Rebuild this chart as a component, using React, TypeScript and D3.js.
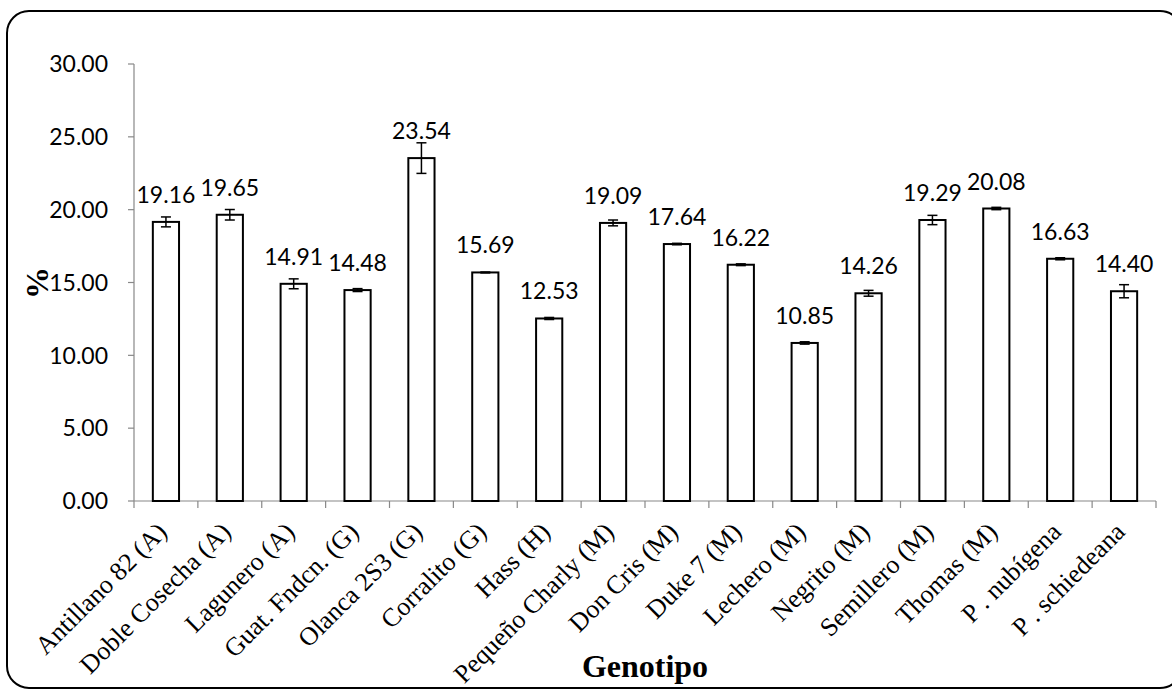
import React from "react";
import * as d3 from "d3";

const categories = [
  "Antillano 82 (A)", "Doble Cosecha (A)", "Lagunero (A)", "Guat. Fndcn. (G)",
  "Olanca 2S3 (G)", "Corralito (G)", "Hass (H)", "Pequeño Charly (M)",
  "Don Cris (M)", "Duke 7 (M)", "Lechero (M)", "Negrito (M)",
  "Semillero (M)", "Thomas (M)", "P . nubígena", "P . schiedeana",
];
const values = [19.16, 19.65, 14.91, 14.48, 23.54, 15.69, 12.53, 19.09, 17.64, 16.22, 10.85, 14.26, 19.29, 20.08, 16.63, 14.40];
const errors = [0.34, 0.36, 0.34, 0.1, 1.05, 0.03, 0.07, 0.2, 0.05, 0.06, 0.08, 0.2, 0.32, 0.08, 0.07, 0.45];
const yTicks = [0, 5, 10, 15, 20, 25, 30];

const W = 1172, H = 693;
const left = 134, right = 1156, top = 64, bottom = 501;

export default function App() {
  const x = d3.scaleBand<string>().domain(categories).range([left, right]).paddingInner(0.59).paddingOuter(0.295);
  const y = d3.scaleLinear().domain([0, 30]).range([bottom, top]);
  const bw = x.bandwidth();
  const step = x.step();
  const numFont = "Lato, 'Open Sans', sans-serif";
  const serif = "'Liberation Serif', 'Times New Roman', serif";
  return (
    <svg width={W} height={H} style={{ position: "absolute", left: 0, top: 0, background: "#fff" }}>
      <rect x={7} y={11} width={1175} height={677} rx={22} ry={22} fill="none" stroke="#000" strokeWidth={2} />
      {/* y axis */}
      <line x1={left} x2={left} y1={top} y2={bottom} stroke="#888" strokeWidth={1.2} />
      {yTicks.map((t) => (
        <g key={t}>
          <line x1={left - 6} x2={left} y1={y(t)} y2={y(t)} stroke="#888" strokeWidth={1.2} />
          <text x={left - 26} y={y(t)} dy="0.36em" textAnchor="end" fontFamily={numFont} fontSize={23} fill="#000">
            {t.toFixed(2)}
          </text>
        </g>
      ))}
      {/* x axis */}
      <line x1={left} x2={right} y1={bottom} y2={bottom} stroke="#888" strokeWidth={1.2} />
      {categories.map((c, i) => (
        <line key={"t" + i} x1={left + i * step} x2={left + i * step} y1={bottom} y2={bottom + 7} stroke="#888" strokeWidth={1.2} />
      ))}
      <line x1={right} x2={right} y1={bottom} y2={bottom + 7} stroke="#888" strokeWidth={1.2} />
      {/* bars */}
      {categories.map((c, i) => {
        const v = values[i];
        const e = errors[i];
        const cx = (x(c) as number) + bw / 2;
        return (
          <g key={c}>
            <rect x={x(c)} y={y(v)} width={bw} height={bottom - y(v)} fill="#fff" stroke="#000" strokeWidth={2} />
            <line x1={cx} x2={cx} y1={y(v + e)} y2={y(v - e)} stroke="#000" strokeWidth={1.5} />
            <line x1={cx - 5} x2={cx + 5} y1={y(v + e)} y2={y(v + e)} stroke="#000" strokeWidth={1.5} />
            <line x1={cx - 5} x2={cx + 5} y1={y(v - e)} y2={y(v - e)} stroke="#000" strokeWidth={1.5} />
            <text x={cx} y={y(v) - 19} textAnchor="middle" fontFamily={numFont} fontSize={23} fill="#000">
              {v.toFixed(2)}
            </text>
            <text
              transform={`translate(${cx - 4},${bottom + 26}) rotate(-45)`}
              textAnchor="end"
              dy="0.35em"
              fontFamily={serif}
              fontSize={26}
              fill="#000"
            >
              {c}
            </text>
          </g>
        );
      })}
      <text x={645} y={677} textAnchor="middle" fontFamily={serif} fontWeight="bold" fontSize={32} fill="#000">
        Genotipo
      </text>
      <text transform={`translate(48,283) rotate(-90)`} textAnchor="middle" fontFamily={serif} fontWeight="bold" fontSize={32} fill="#000">
        %
      </text>
    </svg>
  );
}
